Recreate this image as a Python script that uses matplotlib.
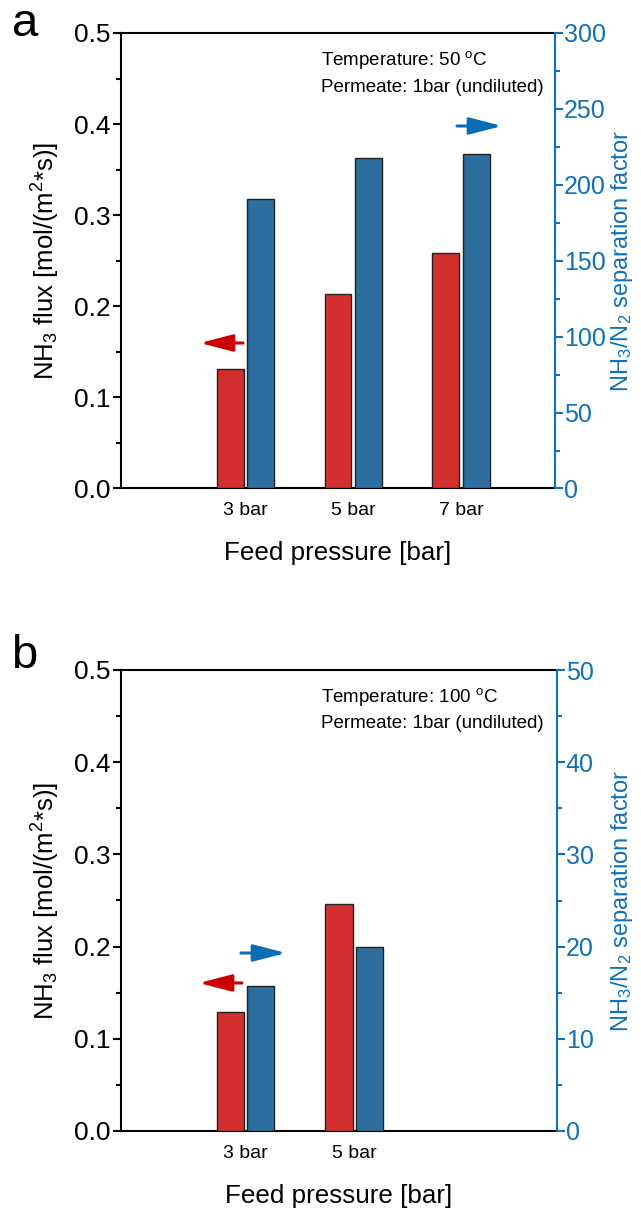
import matplotlib
matplotlib.use("Agg")
import matplotlib.pyplot as plt
from matplotlib.ticker import MultipleLocator, FormatStrFormatter
from matplotlib.patches import FancyArrowPatch
import numpy as np

plt.rcParams["font.family"] = ["Liberation Sans", "DejaVu Sans"]
plt.rcParams["mathtext.fontset"] = "custom"
plt.rcParams["mathtext.rm"] = "Liberation Sans"
plt.rcParams["mathtext.it"] = "Liberation Sans:italic"
plt.rcParams["mathtext.bf"] = "Liberation Sans:bold"

# ---- data ----
pressures_a = ["3 bar", "5 bar", "7 bar"]
flux_a = [0.131, 0.214, 0.259]          # mol/(m2*s)
sepfactor_a = [190.7, 217.7, 220.0]     # NH3/N2 separation factor

pressures_b = ["3 bar", "5 bar"]
flux_b = [0.129, 0.246]
sepfactor_b = [15.7, 20.0]

RED = "#D32F2F"
BLUE_BAR = "#2E6E9E"
EDGE = "#222222"
AXBLUE = "#1070B8"
ARROW_RED = "#CC0000"
ARROW_BLUE = "#0C6DB5"

W, H = 641, 1212
fig = plt.figure(figsize=(W / 100, H / 100), dpi=100)


def px_axes(left, right, top, bottom):
    return fig.add_axes([left / W, 1 - bottom / H, (right - left) / W, (bottom - top) / H])


def arrow(x0, x1, y, color):
    fig.add_artist(FancyArrowPatch(
        (x0 / W, 1 - y / H), (x1 / W, 1 - y / H), transform=fig.transFigure,
        arrowstyle="-|>,head_length=1.0,head_width=0.26", mutation_scale=20,
        lw=2.2, color=color, shrinkA=0, shrinkB=0))


def panel(box, labels, flux, sep, sep_max, sep_major, sep_minor, temp_text):
    ax = px_axes(*box)
    wpx, hpx = box[1] - box[0], box[3] - box[2]
    pos = np.arange(1, len(labels) + 1)
    width, off = 0.25, 0.14
    ax.bar(pos - off, flux, width, color=RED, edgecolor=EDGE, linewidth=1.0, zorder=3)
    ax.set_xlim(-0.15, 3.87)
    ax.set_ylim(0, 0.5)
    ax.yaxis.set_major_locator(MultipleLocator(0.1))
    ax.yaxis.set_minor_locator(MultipleLocator(0.05))
    ax.yaxis.set_major_formatter(FormatStrFormatter("%.1f"))
    ax.set_xticks(pos)
    ax.set_xticklabels(labels, fontsize=14)
    ax.tick_params(axis="x", length=0, pad=10)
    ax.tick_params(axis="y", which="major", length=5.5, width=1.5, labelsize=19, pad=2)
    ax.tick_params(axis="y", which="minor", length=3.5, width=1.5)
    for s in ax.spines.values():
        s.set_linewidth(1.5)
    ax.spines["right"].set_visible(False)
    ax.set_ylabel(r"NH$_3$ flux [mol/(m$^2$*s)]", fontsize=18.5, va="center")
    ax.yaxis.set_label_coords((46 - box[0]) / wpx, 0.5)
    ax.set_xlabel("Feed pressure [bar]", fontsize=18.7, va="center")
    ax.xaxis.set_label_coords(0.5, -65 / hpx)

    ax2 = ax.twinx()
    ax2.bar(pos + off, sep, width, color=BLUE_BAR, edgecolor=EDGE, linewidth=1.0, zorder=3)
    ax2.set_ylim(0, sep_max)
    ax2.yaxis.set_major_locator(MultipleLocator(sep_major))
    ax2.yaxis.set_minor_locator(MultipleLocator(sep_minor))
    for s in ["left", "top", "bottom"]:
        ax2.spines[s].set_visible(False)
    ax2.spines["right"].set_color(AXBLUE)
    ax2.spines["right"].set_linewidth(1.5)
    ax2.tick_params(axis="y", which="major", length=5.5, width=1.5, labelsize=18,
                    colors=AXBLUE, pad=0.8)
    ax2.tick_params(axis="y", which="minor", length=3.5, width=1.5, colors=AXBLUE)
    ax2.set_ylabel(r"NH$_3$/N$_2$ separation factor", fontsize=17, color=AXBLUE,
                   va="center")
    ax2.yaxis.set_label_coords((622 - box[0]) / wpx, 0.5)

    tx = (321 - box[0]) / wpx
    ax.text(tx, 1 - 27 / hpx, temp_text, transform=ax.transAxes, fontsize=13.5,
            va="center", ha="left")
    ax.text(tx, 1 - 54 / hpx, "Permeate: 1bar (undiluted)", transform=ax.transAxes,
            fontsize=13.5, va="center", ha="left")
    return ax, ax2


panel((121, 555, 33, 488.5), pressures_a, flux_a, sepfactor_a, 300, 50, 25,
      r"Temperature: 50 $^{\mathrm{o}}$C")
panel((121, 557, 670, 1131), pressures_b, flux_b, sepfactor_b, 50, 10, 5,
      r"Temperature: 100 $^{\mathrm{o}}$C")

arrow(243, 200, 343, ARROW_RED)
arrow(457, 502, 126, ARROW_BLUE)
arrow(241, 286, 953, ARROW_BLUE)
arrow(242, 199, 983, ARROW_RED)

fig.text(12 / W, 1 - 36 / H, "a", fontsize=34, ha="left", va="baseline")
fig.text(11 / W, 1 - 668 / H, "b", fontsize=34, ha="left", va="baseline")

fig.savefig("out.png", dpi=100)
